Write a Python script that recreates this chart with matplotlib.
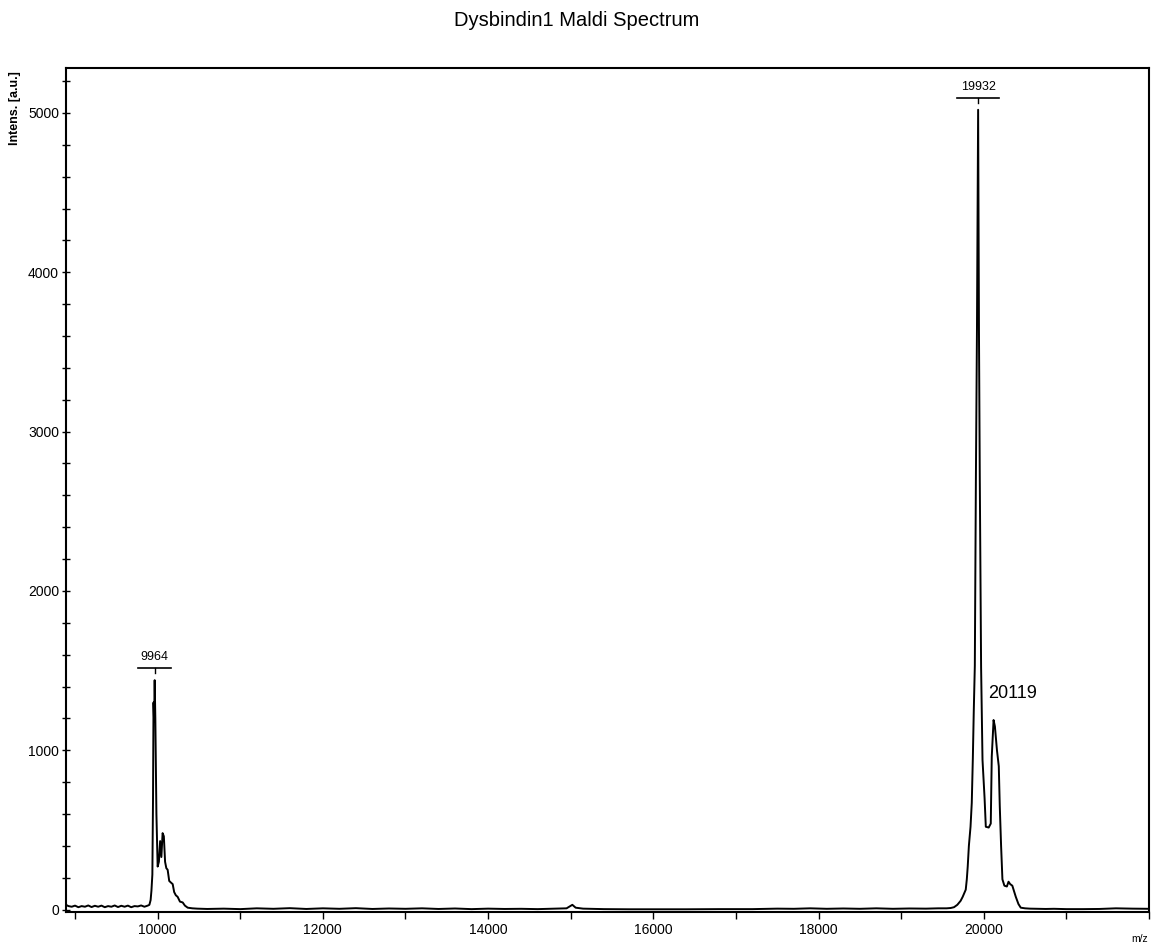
import matplotlib
matplotlib.use("Agg")
import matplotlib.pyplot as plt
from matplotlib.ticker import FixedLocator, MultipleLocator

plt.rcParams["font.family"] = ["Liberation Sans", "DejaVu Sans"]

# spectrum pieces (m/z, intensity a.u.)
base_left_mz = [8890, 8920, 8960, 9000, 9040, 9080, 9120, 9160, 9200, 9240, 9280, 9320, 9360,
                9400, 9440, 9480, 9520, 9560, 9600, 9640, 9680, 9720, 9760, 9800, 9840, 9880]
base_left_int = [30, 22, 18, 25, 15, 22, 18, 26, 16, 24, 18, 25, 15,
                 22, 18, 26, 16, 24, 18, 25, 15, 22, 20, 26, 18, 25]

peak1_mz = [9900, 9915, 9925, 9936, 9944, 9950, 9957, 9964, 9972, 9985, 10000, 10015, 10030,
            10045, 10060, 10075, 10090, 10105, 10121, 10140, 10160, 10182, 10200, 10220, 10242,
            10270, 10303, 10330, 10364, 10420]
peak1_int = [30, 60, 120, 220, 700, 1300, 1180, 1440, 1200, 600, 270, 300, 430,
             330, 480, 460, 300, 260, 250, 180, 170, 160, 110, 90, 80,
             50, 45, 25, 12, 8]

base_mid_mz = [10480, 10600, 10800, 11000, 11200, 11400, 11600, 11800, 12000, 12200, 12400,
               12600, 12800, 13000, 13200, 13400, 13600, 13800, 14000, 14200, 14400, 14600,
               14800, 14950, 15020, 15060, 15150, 15400, 15700, 16000, 16400, 16800, 17200,
               17500, 17700, 17900, 18100, 18300, 18500, 18700, 18900, 19100, 19300, 19450]
base_mid_int = [6, 4, 6, 3, 8, 5, 9, 4, 8, 5, 9,
                4, 7, 5, 8, 4, 7, 3, 6, 4, 5, 3,
                6, 8, 30, 12, 6, 3, 2, 2, 2, 3, 3,
                6, 5, 8, 5, 7, 5, 8, 5, 7, 6, 8]

peak2_mz = [19550, 19600, 19640, 19680, 19720, 19745, 19770, 19782, 19795, 19806, 19820, 19840,
            19855, 19868, 19879, 19892, 19905, 19918, 19932, 19942, 19952, 19968, 19985, 20010,
            20025, 20060, 20085, 20097, 20108, 20119, 20135, 20160, 20182, 20194, 20210, 20226,
            20250, 20280, 20300, 20320, 20346, 20370, 20388, 20420, 20448, 20500, 20560, 20650,
            20750]
peak2_int = [8, 10, 15, 30, 55, 80, 110, 125, 190, 270, 400, 520,
             670, 950, 1240, 1530, 2710, 3650, 5020, 3640, 2710, 1520, 940, 700,
             520, 515, 540, 960, 1080, 1190, 1150, 1000, 900, 650, 400, 190,
             150, 145, 175, 160, 150, 110, 80, 35, 12, 8, 6, 5, 4]

base_right_mz = [20850, 21000, 21200, 21400, 21600, 21800, 22000]
base_right_int = [5, 3, 3, 4, 8, 6, 5]

# labelled peaks
bar_labels = [("9964", 9964, 1440), ("19932", 19932, 5020)]
plain_label = ("20119", 20119, 1190)
x_labels = [10000, 12000, 14000, 16000, 18000, 20000]

mz = base_left_mz + peak1_mz + base_mid_mz + peak2_mz + base_right_mz
inten = base_left_int + peak1_int + base_mid_int + peak2_int + base_right_int

fig = plt.figure(figsize=(11.53, 9.49), dpi=100)
ax = fig.add_axes([0.0572, 0.039, 0.9393, 0.8893])
ax.plot(mz, inten, color="black", lw=1.4)

for text, x, y in bar_labels:
    half = len(text) * 50
    ax.plot([x - half, x + half], [y + 75, y + 75], color="black", lw=1.2)
    ax.plot([x, x], [y + 75, y + 45], color="black", lw=1.0)
    ax.text(x, y + 105, text, ha="center", va="bottom", fontsize=9)

ax.text(plain_label[1] - 60, plain_label[2] + 165, plain_label[0], ha="left", va="center",
        fontsize=13)

ax.set_xlim(8890, 22000)
ax.set_ylim(-15, 5282)
ax.xaxis.set_major_locator(FixedLocator(x_labels))
ax.xaxis.set_minor_locator(MultipleLocator(1000))
ax.yaxis.set_major_locator(MultipleLocator(1000))
ax.yaxis.set_minor_locator(MultipleLocator(200))
ax.tick_params(axis="x", which="both", direction="out", length=5, width=1, labelsize=10, pad=3)
ax.tick_params(axis="y", which="both", direction="inout", length=6, width=1, labelsize=10, pad=2)
for s in ax.spines.values():
    s.set_linewidth(1.5)

fig.text(0.5, 0.978, "Dysbindin1 Maldi Spectrum", ha="center", va="center", fontsize=14.5)
fig.text(0.013, 0.886, "Intens. [a.u.]", rotation=90, ha="center", va="center",
         fontsize=9, fontweight="bold")
fig.text(0.988, 0.005, "m/z", ha="center", va="bottom", fontsize=7.5)

fig.savefig("out.png", dpi=100)
